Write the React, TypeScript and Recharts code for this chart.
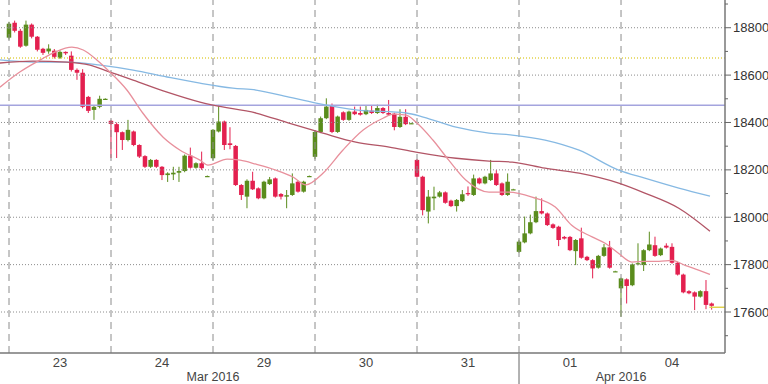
import React from 'react';
import {
  ComposedChart, Bar, Line, XAxis, YAxis, ReferenceLine,
} from 'recharts';

// [open, high, low, close] per 30-minute bar, 18 bars a trading day
const mar23 = [
  [18758, 18825, 18750, 18817], [18821, 18830, 18780, 18787], [18787, 18795, 18715, 18720],
  [18724, 18830, 18720, 18813], [18813, 18818, 18755, 18762], [18762, 18765, 18700, 18707],
  [18711, 18715, 18685, 18694], [18700, 18730, 18690, 18712], [18703, 18710, 18670, 18677],
  [18673, 18705, 18668, 18698], [18698, 18700, 18685, 18692], [18682, 18700, 18615, 18622],
  [18622, 18628, 18580, 18610], [18610, 18625, 18460, 18466], [18508, 18512, 18440, 18449],
  [18453, 18470, 18411, 18466], [18466, 18513, 18460, 18500], [18500, 18502, 18498, 18500],
];
const mar24 = [
  [18407, 18411, 18250, 18394], [18393, 18400, 18250, 18359], [18359, 18362, 18284, 18326],
  [18326, 18411, 18320, 18369], [18362, 18366, 18300, 18305], [18305, 18308, 18250, 18256],
  [18258, 18262, 18208, 18213], [18213, 18246, 18208, 18242], [18242, 18245, 18208, 18213],
  [18213, 18216, 18157, 18178], [18178, 18190, 18149, 18185], [18181, 18213, 18157, 18188],
  [18188, 18213, 18149, 18195], [18195, 18265, 18190, 18260], [18260, 18294, 18205, 18209],
  [18209, 18232, 18205, 18228], [18228, 18277, 18200, 18207], [18174, 18176, 18172, 18174],
];
const mar29 = [
  [18249, 18372, 18240, 18369], [18362, 18474, 18358, 18404], [18404, 18408, 18284, 18305],
  [18312, 18380, 18287, 18305], [18301, 18305, 18132, 18136], [18136, 18140, 18073, 18094],
  [18087, 18160, 18038, 18154], [18154, 18192, 18115, 18118], [18122, 18126, 18076, 18080],
  [18080, 18154, 18076, 18150], [18140, 18170, 18136, 18160], [18164, 18168, 18083, 18087],
  [18098, 18102, 18075, 18087], [18087, 18115, 18038, 18093], [18094, 18185, 18090, 18143],
  [18150, 18154, 18104, 18108], [18108, 18154, 18104, 18150], [18174, 18176, 18172, 18174],
];
const mar30 = [
  [18255, 18365, 18245, 18360], [18360, 18425, 18355, 18418], [18418, 18502, 18414, 18467],
  [18471, 18480, 18355, 18360], [18360, 18429, 18356, 18425], [18443, 18447, 18407, 18411],
  [18411, 18450, 18407, 18446], [18446, 18467, 18431, 18435], [18440, 18467, 18429, 18433],
  [18435, 18470, 18431, 18453], [18450, 18472, 18436, 18440], [18440, 18475, 18436, 18461],
  [18461, 18465, 18436, 18440], [18440, 18495, 18429, 18433], [18437, 18441, 18367, 18381],
  [18381, 18456, 18377, 18424], [18424, 18456, 18389, 18393], [18397, 18399, 18395, 18397],
];
const mar31 = [
  [18242, 18246, 18167, 18171], [18171, 18175, 18008, 18030], [18024, 18115, 17974, 18087],
  [18080, 18129, 18030, 18087], [18087, 18111, 18083, 18105], [18105, 18109, 18057, 18061],
  [18070, 18074, 18043, 18047], [18047, 18077, 18024, 18073], [18068, 18115, 18064, 18097],
  [18102, 18130, 18090, 18097], [18094, 18180, 18090, 18164], [18164, 18168, 18139, 18143],
  [18143, 18175, 18139, 18171], [18157, 18242, 18153, 18185], [18185, 18199, 18132, 18136],
  [18143, 18147, 18090, 18094], [18094, 18185, 18090, 18150], [18118, 18120, 18116, 18118],
];
const apr01 = [
  [17854, 17905, 17850, 17897], [17894, 18003, 17890, 17932], [17932, 18011, 17928, 17979],
  [17979, 18087, 17975, 18026], [18026, 18080, 18012, 18016], [18016, 18020, 17963, 17967],
  [17970, 17974, 17951, 17955], [17960, 17964, 17878, 17904], [17917, 17921, 17906, 17910],
  [17917, 17921, 17857, 17861], [17857, 17908, 17798, 17904], [17911, 17956, 17825, 17829],
  [17833, 17837, 17815, 17819], [17819, 17823, 17742, 17784], [17787, 17841, 17783, 17837],
  [17837, 17887, 17833, 17873], [17873, 17900, 17783, 17787], [17772, 17774, 17770, 17772],
];
const apr04 = [
  [17700, 17745, 17580, 17742], [17738, 17742, 17636, 17710], [17713, 17805, 17709, 17801],
  [17801, 17890, 17797, 17806], [17798, 17865, 17773, 17861], [17861, 17939, 17857, 17885],
  [17882, 17918, 17833, 17837], [17840, 17872, 17836, 17868], [17880, 17890, 17868, 17872],
  [17875, 17890, 17804, 17808], [17808, 17812, 17754, 17758], [17758, 17762, 17679, 17683],
  [17688, 17692, 17675, 17679], [17683, 17687, 17608, 17665], [17665, 17692, 17661, 17688],
  [17688, 17735, 17612, 17630], [17636, 17640, 17610, 17626],
];

// moving averages as [bar index, value]
const maFast = [
  [-1.6, 18549], [1.9, 18613], [5.5, 18664], [8.1, 18697], [11.1, 18718], [13.1, 18706],
  [15.5, 18664], [17.8, 18613], [20.8, 18537], [23.6, 18440], [27.2, 18338], [30.2, 18283],
  [33.7, 18241], [35.1, 18220], [38.5, 18245], [40.8, 18241], [43.6, 18224], [47.1, 18199],
  [50.1, 18170], [52.4, 18137], [55.4, 18186], [58.9, 18283], [62.5, 18368], [66.0, 18418],
  [67.8, 18435], [70.1, 18431], [71.8, 18402], [74.8, 18326], [77.6, 18241], [80.6, 18157],
  [84.7, 18106], [88.2, 18106], [92.3, 18085], [96.4, 18043], [99.3, 17966], [102.9, 17917],
  [105.2, 17890], [107.6, 17847], [109.9, 17811], [112.2, 17814], [114.7, 17814], [117.0, 17818],
  [119.3, 17797], [121.8, 17776], [123.7, 17759],
];
const maMid = [
  [-1.6, 18651], [4.2, 18659], [10.2, 18655], [14.3, 18642], [17.8, 18613], [21.9, 18579],
  [27.9, 18528], [33.7, 18486], [36.0, 18473], [43.6, 18440], [49.4, 18397], [55.4, 18355],
  [61.2, 18317], [67.1, 18296], [71.8, 18275], [78.9, 18249], [84.7, 18237], [88.8, 18233],
  [94.6, 18207], [100.6, 18186], [107.6, 18144], [112.2, 18102], [118.2, 18038], [123.7, 17941],
];
const maSlow = [
  [-1.6, 18664], [4.2, 18655], [10.2, 18655], [16.1, 18642], [21.9, 18621], [27.9, 18592],
  [33.7, 18566], [39.5, 18545], [43.6, 18537], [49.4, 18507], [54.2, 18482], [61.2, 18453],
  [70.1, 18440], [73.1, 18423], [78.9, 18380], [84.7, 18355], [88.8, 18347], [94.6, 18326],
  [100.6, 18283], [107.6, 18199], [112.2, 18165], [118.2, 18123], [123.7, 18089],
];

const dayLabels = ['23', '24', '29', '30', '31', '01', '04'];
const monthLabels = [{ k: 36, text: 'Mar 2016' }, { k: 108, text: 'Apr 2016' }];
const yMajor = [17600, 17800, 18000, 18200, 18400, 18600, 18800];
const yMinor = [17500, 17700, 17900, 18100, 18300, 18500, 18700, 18900];
const resistance = 18473;
const pivot = 18672;
const lastPrice = 17620;

const PER_DAY = 18;
const GREEN = '#5a8c1c';
const RED = '#e3204f';
const FONT = '"Liberation Sans", Arial, sans-serif';
const PLOT_RIGHT = 725;
const PLOT_BOTTOM = 353;
const BODY = 4.5;

const bars = [...mar23, ...mar24, ...mar29, ...mar30, ...mar31, ...apr01, ...apr04].map((b, k) => ({
  k, o: b[0], h: b[1], l: b[2], c: b[3],
}));
const toPts = (arr: number[][]) => arr.map(([k, v]) => ({ k, v }));
const dayStarts = dayLabels.map((_, i) => i * PER_DAY);
const dayMids = dayLabels.map((_, i) => i * PER_DAY + PER_DAY / 2);
const xTicks = [...dayMids, ...monthLabels.map(m => m.k), 90].sort((a, b) => a - b);

const Candle = (props: any) => {
  const { x, y, width, height, payload } = props;
  const { o, h, l, c } = payload;
  const color = c >= o ? GREEN : RED;
  const range = h - l || 1;
  const py = (v: number) => y + ((h - v) / range) * height;
  const cx = x + width / 2;
  const top = py(Math.max(o, c));
  const bot = py(Math.min(o, c));
  return (
    <g>
      <line x1={cx} x2={cx} y1={y} y2={y + height} stroke={color} strokeWidth={1} />
      <rect x={cx - BODY / 2} y={top} width={BODY} height={Math.max(1.2, bot - top)} fill={color} />
    </g>
  );
};

const XTick = (props: any) => {
  const { x, payload } = props;
  const v = payload.value;
  const di = dayMids.indexOf(v);
  if (di >= 0) {
    return (
      <text x={x} y={PLOT_BOTTOM + 14} textAnchor="middle" fontFamily={FONT} fontSize={13} fill="#444">
        {dayLabels[di]}
      </text>
    );
  }
  const m = monthLabels.find(mm => mm.k === v);
  if (m) {
    return (
      <text x={x} y={PLOT_BOTTOM + 28} textAnchor="middle" fontFamily={FONT} fontSize={12.5} fill="#444">
        {m.text}
      </text>
    );
  }
  // month separator runs below the axis
  return <line x1={x} x2={x} y1={PLOT_BOTTOM} y2={384} stroke="#999" strokeWidth={1.5} />;
};

const YTick = (props: any) => {
  const { y, payload } = props;
  const v = payload.value;
  const major = yMajor.includes(v);
  return (
    <g>
      <line x1={PLOT_RIGHT} x2={PLOT_RIGHT + (major ? 6 : 3)} y1={y} y2={y} stroke="#666" />
      {major && (
        <text x={PLOT_RIGHT + 8} y={y} dy={4.5} fontFamily={FONT} fontSize={13} fill="#333">
          {v}
        </text>
      )}
    </g>
  );
};

export default function App() {
  return (
    <div style={{ position: 'absolute', left: 0, top: 0, width: 768, height: 384, background: '#fff' }}>
      <ComposedChart width={768} height={384} data={bars} margin={{ top: 0, right: 0, bottom: 0, left: 0 }}>
        <XAxis
          dataKey="k"
          type="number"
          domain={[-1.59, 126.35]}
          allowDataOverflow
          ticks={xTicks}
          interval={0}
          tick={<XTick />}
          tickLine={false}
          tickSize={0}
          height={31}
          axisLine={{ stroke: '#777', strokeWidth: 1.5 }}
        />
        <YAxis
          orientation="right"
          type="number"
          domain={[17427, 18917]}
          allowDataOverflow
          ticks={[...yMajor, ...yMinor].sort((a, b) => a - b)}
          interval={0}
          tick={<YTick />}
          tickLine={false}
          width={43}
          axisLine={{ stroke: '#777', strokeWidth: 1.5 }}
        />
        {yMajor.map(v => (
          <ReferenceLine key={`h${v}`} y={v} stroke="#8c8c8c" strokeDasharray="1 2" />
        ))}
        {dayStarts.map(k => (
          <ReferenceLine key={`d${k}`} x={k} stroke="#8c8c8c" strokeDasharray="7 5" />
        ))}
        <ReferenceLine y={pivot} stroke="#e2d24a" strokeWidth={1.5} strokeDasharray="1 2" />
        <ReferenceLine y={resistance} stroke="#a4a4de" strokeWidth={1.5} />
        <Line data={toPts(maSlow)} dataKey="v" type="monotone" stroke="#86b9e3" strokeWidth={1.3} dot={false} isAnimationActive={false} />
        <Line data={toPts(maMid)} dataKey="v" type="monotone" stroke="#b25566" strokeWidth={1.3} dot={false} isAnimationActive={false} />
        <Line data={toPts(maFast)} dataKey="v" type="monotone" stroke="#e8909c" strokeWidth={1.3} dot={false} isAnimationActive={false} />
        <Bar dataKey={(d: any) => [d.l, d.h]} barSize={4} shape={<Candle />} isAnimationActive={false} />
        <ReferenceLine
          segment={[{ x: 123.6, y: lastPrice }, { x: 126.35, y: lastPrice }]}
          stroke="#e2d24a"
          strokeWidth={1.5}
        />
      </ComposedChart>
    </div>
  );
}
